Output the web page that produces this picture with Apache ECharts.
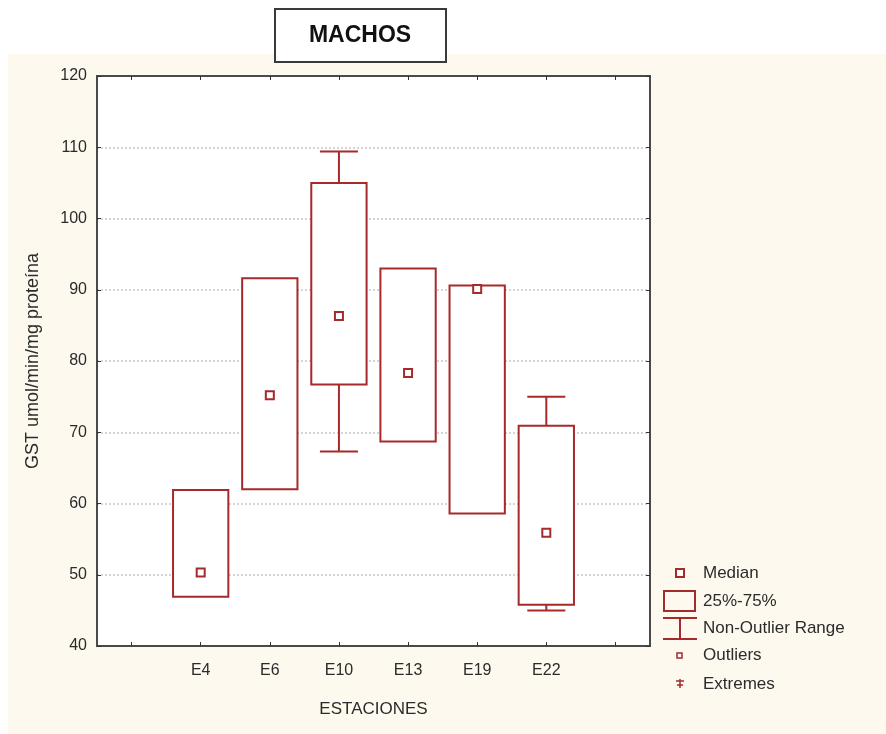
<!DOCTYPE html>
<html>
<head>
<meta charset="utf-8">
<script src="https://cdn.jsdelivr.net/npm/echarts@6/dist/echarts.min.js"></script>
<style>
  html, body { margin: 0; padding: 0; background: #ffffff; }
  #chart { width: 886px; height: 734px; }
</style>
</head>
<body>
<div id="chart"></div>
<script>
// Stations and box-plot statistics (GST, males)
var categories = ['E4', 'E6', 'E10', 'E13', 'E19', 'E22'];
var whiskerLow  = [46.9, 62.0, 67.3, 68.7, 58.6, 45.0];
var q1          = [46.9, 62.0, 76.7, 68.7, 58.6, 45.8];
var median      = [50.3, 75.2, 86.3, 78.3, 90.1, 55.9];
var q3          = [61.9, 91.6, 105.0, 93.0, 90.6, 70.9];
var whiskerHigh = [61.9, 91.6, 109.4, 93.0, 90.6, 75.0];
var yTicks = [40, 50, 60, 70, 80, 90, 100, 110, 120];

var RED = '#a52a2a';
var FONT = '"Liberation Sans", Arial, sans-serif';
var TEXT = '#2b2b2b';

// the x axis has an empty slot at each end
var axisCats = [''].concat(categories).concat(['']);

var boxData = categories.map(function (c, i) {
  return [i + 1, whiskerLow[i], q1[i], median[i], q3[i], whiskerHigh[i]];
});
var medianData = categories.map(function (c, i) { return [i + 1, median[i]]; });

function renderBox(params, api) {
  var x = api.value(0);
  var pLow = api.coord([x, api.value(1)]);
  var pQ1 = api.coord([x, api.value(2)]);
  var pQ3 = api.coord([x, api.value(4)]);
  var pHigh = api.coord([x, api.value(5)]);
  var band = api.size([1, 0])[0];
  var bw = band * 0.8;
  var cw = band * 0.55;
  var cx = pQ1[0];
  var style = { stroke: RED, lineWidth: 2, fill: null };
  var children = [
    { type: 'rect', shape: { x: cx - bw / 2, y: pQ3[1], width: bw, height: pQ1[1] - pQ3[1] },
      style: { stroke: RED, lineWidth: 2, fill: '#ffffff' } }
  ];
  if (api.value(5) > api.value(4)) {
    children.push({ type: 'line', shape: { x1: cx, y1: pQ3[1], x2: cx, y2: pHigh[1] }, style: style });
    children.push({ type: 'line', shape: { x1: cx - cw / 2, y1: pHigh[1], x2: cx + cw / 2, y2: pHigh[1] }, style: style });
  }
  if (api.value(1) < api.value(2)) {
    children.push({ type: 'line', shape: { x1: cx, y1: pQ1[1], x2: cx, y2: pLow[1] }, style: style });
    children.push({ type: 'line', shape: { x1: cx - cw / 2, y1: pLow[1], x2: cx + cw / 2, y2: pLow[1] }, style: style });
  }
  return { type: 'group', children: children };
}

var chart = echarts.init(document.getElementById('chart'), null, { renderer: 'canvas' });

var legendText = { fill: TEXT, font: '17px ' + FONT, textVerticalAlign: 'middle' };

chart.setOption({
  backgroundColor: '#ffffff',
  animation: false,
  grid: {
    left: 97, top: 76, width: 553, height: 570,
    show: true, backgroundColor: '#ffffff', borderColor: '#4a4a4a', borderWidth: 2
  },
  xAxis: [
    {
      type: 'category', data: axisCats, position: 'bottom', boundaryGap: true,
      name: 'ESTACIONES', nameLocation: 'middle', nameGap: 55,
      nameTextStyle: { color: TEXT, fontFamily: FONT, fontSize: 17 },
      axisLine: { show: true, lineStyle: { color: '#4a4a4a', width: 2 } },
      axisTick: { show: true, inside: true, length: 4, alignWithLabel: true, lineStyle: { color: '#333' } },
      axisLabel: { margin: 17, interval: 0, color: TEXT, fontFamily: FONT, fontSize: 16 },
      splitLine: { show: false }
    },
    {
      type: 'category', data: axisCats, position: 'top', boundaryGap: true,
      axisLine: { show: true, lineStyle: { color: '#4a4a4a', width: 2 } },
      axisTick: { show: true, inside: true, length: 4, alignWithLabel: true, lineStyle: { color: '#333' } },
      axisLabel: { show: false },
      splitLine: { show: false }
    }
  ],
  yAxis: [
    {
      type: 'value', min: yTicks[0], max: yTicks[yTicks.length - 1], interval: 10, position: 'left',
      name: 'GST umol/min/mg proteína', nameLocation: 'middle', nameGap: 55,
      nameTextStyle: { color: TEXT, fontFamily: FONT, fontSize: 18 },
      axisLine: { show: true, lineStyle: { color: '#4a4a4a', width: 2 } },
      axisTick: { show: true, inside: true, length: 4, lineStyle: { color: '#333' } },
      axisLabel: { margin: 10, color: TEXT, fontFamily: FONT, fontSize: 16 },
      splitLine: { show: true, lineStyle: { color: '#c8c8c8', type: [2, 2], width: 1.5 } }
    },
    {
      type: 'value', min: yTicks[0], max: yTicks[yTicks.length - 1], interval: 10, position: 'right',
      axisLine: { show: true, lineStyle: { color: '#4a4a4a', width: 2 } },
      axisTick: { show: true, inside: true, length: 4, lineStyle: { color: '#333' } },
      axisLabel: { show: false },
      splitLine: { show: false }
    }
  ],
  series: [
    {
      type: 'custom', name: '25%-75%', xAxisIndex: 0, yAxisIndex: 0,
      renderItem: renderBox, data: boxData,
      encode: { x: 0, y: [1, 2, 3, 4, 5] }, z: 3
    },
    {
      type: 'scatter', name: 'Median', xAxisIndex: 0, yAxisIndex: 0,
      data: medianData, symbol: 'rect', symbolSize: 8,
      itemStyle: { color: '#ffffff', borderColor: RED, borderWidth: 2, opacity: 1 },
      z: 4
    }
  ],
  graphic: [
    // cream panel behind the plot
    { type: 'rect', z: -10, shape: { x: 8, y: 54, width: 878, height: 680 }, style: { fill: '#fdf9ef' } },
    // title box
    { type: 'rect', z: 10, shape: { x: 275, y: 9, width: 171, height: 53 },
      style: { fill: '#ffffff', stroke: '#3a3a3a', lineWidth: 2 } },
    { type: 'text', z: 11, x: 360, y: 36,
      style: { text: 'MACHOS', fill: '#111111', font: 'bold 23px ' + FONT, textAlign: 'center', textVerticalAlign: 'middle' } },
    // legend
    { type: 'rect', z: 10, shape: { x: 676, y: 569, width: 8, height: 8 }, style: { fill: '#ffffff', stroke: RED, lineWidth: 2 } },
    { type: 'text', z: 10, x: 703, y: 573, style: Object.assign({ text: 'Median' }, legendText) },
    { type: 'rect', z: 10, shape: { x: 664, y: 591, width: 31, height: 20 }, style: { fill: null, stroke: RED, lineWidth: 2 } },
    { type: 'text', z: 10, x: 703, y: 601, style: Object.assign({ text: '25%-75%' }, legendText) },
    { type: 'polyline', z: 10, shape: { points: [[663, 618], [697, 618]] }, style: { stroke: RED, lineWidth: 2 } },
    { type: 'polyline', z: 10, shape: { points: [[680, 618], [680, 639]] }, style: { stroke: RED, lineWidth: 2 } },
    { type: 'polyline', z: 10, shape: { points: [[663, 639], [697, 639]] }, style: { stroke: RED, lineWidth: 2 } },
    { type: 'text', z: 10, x: 703, y: 628, style: Object.assign({ text: 'Non-Outlier Range' }, legendText) },
    { type: 'rect', z: 10, shape: { x: 677, y: 653, width: 5, height: 5 }, style: { fill: '#ffffff', stroke: RED, lineWidth: 1.5 } },
    { type: 'text', z: 10, x: 703, y: 655, style: Object.assign({ text: 'Outliers' }, legendText) },
    { type: 'polyline', z: 10, shape: { points: [[676, 681], [684, 681]] }, style: { stroke: RED, lineWidth: 1.5 } },
    { type: 'polyline', z: 10, shape: { points: [[680, 679], [680, 688]] }, style: { stroke: RED, lineWidth: 1.5 } },
    { type: 'polyline', z: 10, shape: { points: [[677, 685], [683, 685]] }, style: { stroke: RED, lineWidth: 1.5 } },
    { type: 'text', z: 10, x: 703, y: 684, style: Object.assign({ text: 'Extremes' }, legendText) }
  ]
});
</script>
</body>
</html>
